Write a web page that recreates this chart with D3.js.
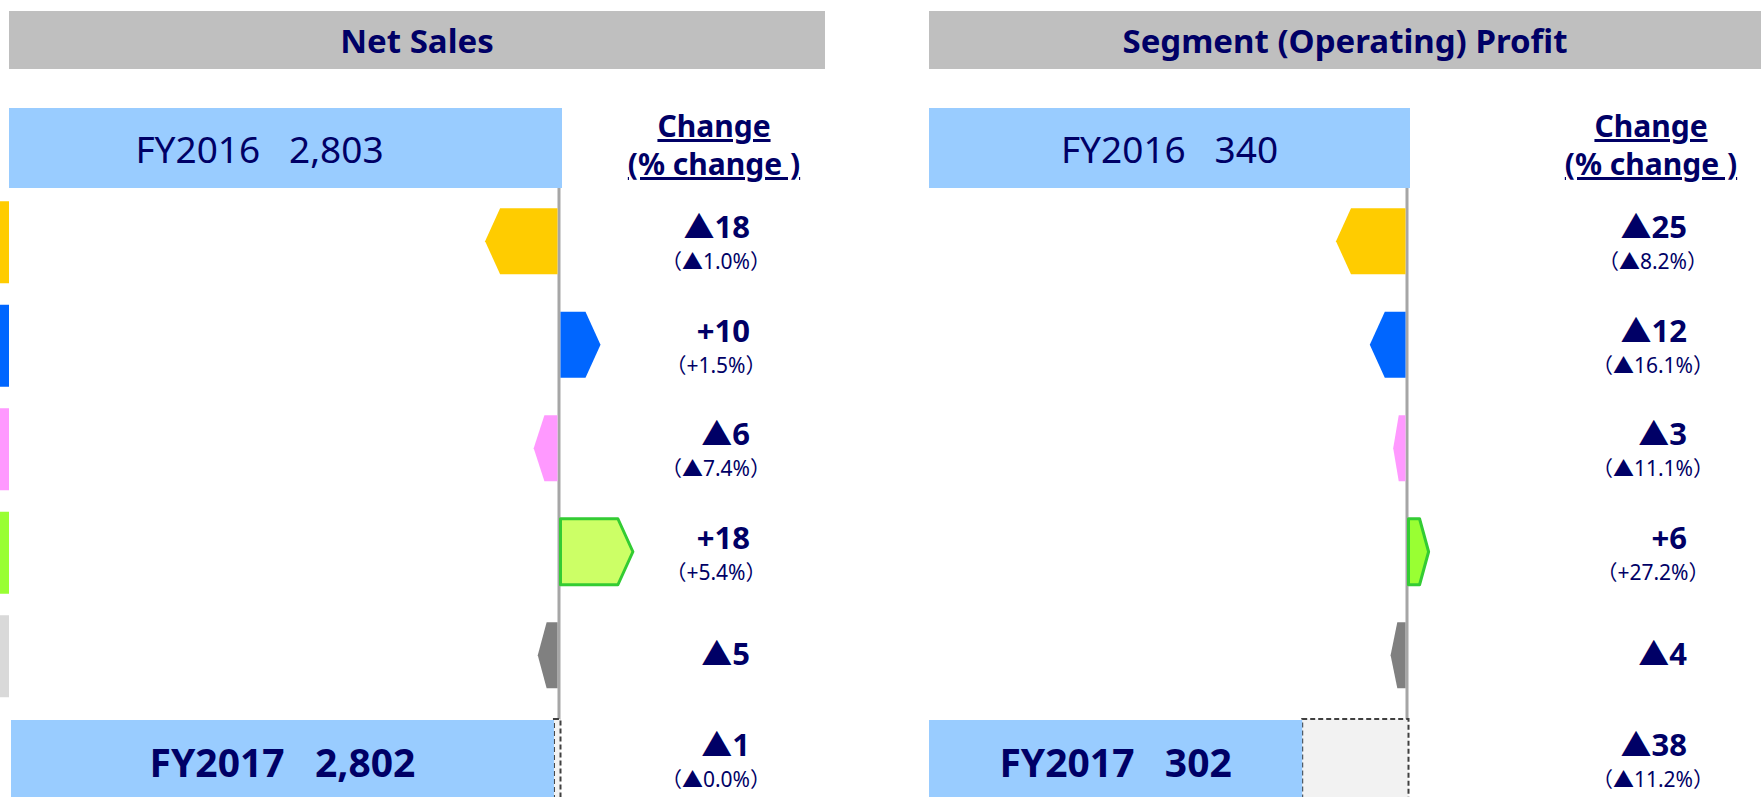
<!DOCTYPE html>
<html>
<head>
<meta charset="utf-8">
<script src="https://cdn.jsdelivr.net/npm/d3@7"></script>
<style>
  body { margin: 0; background: #fff; }
  text { font-family: 'Noto Sans', 'Noto Sans CJK JP', sans-serif; fill: #000066; white-space: pre; }
</style>
</head>
<body>
<svg id="chart"></svg>
<script>
// segment rows (names are cut off in the source picture)
const segments = ['Segment A', 'Segment B', 'Segment C', 'Segment D', 'Other'];
const years = ['FY2016', 'FY2017'];

const netChange = [-18, 10, -6, 18, -5];
const netPct = [-1.0, 1.5, -7.4, 5.4, null];
const netTotals = [2803, 2802];
const netTotalPct = 0.0;

const profitChange = [-25, -12, -3, 6, -4];
const profitPct = [-8.2, -16.1, -11.1, 27.2, null];
const profitTotals = [340, 302];
const profitTotalPct = 11.2;

const w = 1761;
const h = 797;
const arrowColors = ['#FFCC00', '#0066FF', '#FF99FF', 'green', '#808080'];
const stripColors = ['#FFCC00', '#0066FF', '#FF99FF', '#99FF33', '#D9D9D9'];

const panels = [
  { title: 'Net Sales', change: netChange, pct: netPct, totals: netTotals, totalPct: netTotalPct,
    left: 9, right: 825, base: 559, minLen: 1, perUnit: 4.05, col: 714, labelShift: -26, fy17Left: 11,
    green: '#CCFF66', strips: true },
  { title: 'Segment (Operating) Profit', change: profitChange, pct: profitPct, totals: profitTotals, totalPct: profitTotalPct,
    left: 929, right: 1761, base: 1407, minLen: 6, perUnit: 2.6, col: 1651, labelShift: 0, fy17Left: 929,
    green: '#99FF33', strips: false }
];

const rows = segments.concat(['total']);
const yScale = d3.scaleBand().domain(rows).range([189.5, 810.5]);
const rowMid = (r) => yScale(r) + yScale.bandwidth() / 2;

const fmtChange = (v) => (v < 0 ? '▲' : '+') + Math.abs(v);
const fmtPct = (v, sign) => '（' + (sign < 0 ? '▲' : '+') + Math.abs(v).toFixed(1) + '%）';

const svg = d3.select('#chart')
  .attr('width', w)
  .attr('height', h);

panels.forEach((p) => {
  const g = svg.append('g');
  const start = p.totals[0];
  // change magnitude -> bar length
  const lenScale = d3.scaleLinear()
    .domain([0, 100])
    .range([p.minLen, p.minLen + 100 * p.perUnit]);
  const xAt = (delta) => p.base + Math.sign(delta) * lenScale(Math.abs(delta));

  // header band
  g.append('rect')
    .attr('x', p.left).attr('y', 11)
    .attr('width', p.right - p.left).attr('height', 58)
    .attr('fill', '#BFBFBF');
  g.append('text')
    .attr('x', (p.left + p.right) / 2).attr('y', 53)
    .attr('text-anchor', 'middle')
    .style('font-size', '33px').style('font-weight', 'bold')
    .text(p.title);

  // left colour strips (rest of the table is cut off)
  if (p.strips) {
    g.selectAll('rect.strip')
      .data(segments)
      .enter()
      .append('rect')
      .attr('class', 'strip')
      .attr('x', 0)
      .attr('y', (d) => rowMid(d) - 40)
      .attr('width', 9)
      .attr('height', 82)
      .attr('fill', (d, i) => stripColors[i]);
  }

  // FY2016 box
  const boxRight = p.base + 3;
  g.append('rect')
    .attr('x', p.left).attr('y', 108)
    .attr('width', boxRight - p.left).attr('height', 80)
    .attr('fill', '#99CCFF');
  g.append('text')
    .attr('x', (p.left + boxRight) / 2 + p.labelShift).attr('y', 163)
    .attr('text-anchor', 'middle')
    .style('font-size', '37px')
    .text(years[0] + '   ' + d3.format(',')(start));

  // baseline
  g.append('line')
    .attr('x1', p.base).attr('x2', p.base)
    .attr('y1', 188).attr('y2', 720)
    .attr('stroke', '#A6A6A6').attr('stroke-width', 3);

  // arrows
  const arrowPath = (v, c) => {
    const s = v < 0 ? -1 : 1;
    const x0 = p.base + s * 1.5;
    const x1 = xAt(v);
    const depth = Math.min(15, Math.abs(x1 - x0) * 0.45);
    const hh = 33;
    return 'M' + x0 + ',' + (c - hh) +
      'L' + (x1 - s * depth) + ',' + (c - hh) +
      'L' + x1 + ',' + c +
      'L' + (x1 - s * depth) + ',' + (c + hh) +
      'L' + x0 + ',' + (c + hh) + 'Z';
  };
  g.selectAll('path.arrow')
    .data(p.change)
    .enter()
    .append('path')
    .attr('class', 'arrow')
    .attr('d', (d, i) => arrowPath(d, rowMid(segments[i])))
    .attr('fill', (d, i) => arrowColors[i] === 'green' ? p.green : arrowColors[i])
    .attr('stroke', (d, i) => arrowColors[i] === 'green' ? '#33CC33' : 'none')
    .attr('stroke-width', 3)
    .attr('stroke-linejoin', 'round');

  // FY2017 box with the gap shown dashed
  const end = p.totals[1];
  const endX = xAt(end - start);
  g.append('rect')
    .attr('x', endX).attr('y', 719)
    .attr('width', p.base + 1.5 - endX).attr('height', 90)
    .attr('fill', '#F2F2F2')
    .attr('stroke', '#404040').attr('stroke-width', 2)
    .attr('stroke-dasharray', '5,3');
  g.append('rect')
    .attr('x', p.fy17Left).attr('y', 720)
    .attr('width', endX - p.fy17Left).attr('height', 90)
    .attr('fill', '#99CCFF');
  g.append('text')
    .attr('x', (p.fy17Left + endX) / 2).attr('y', 777)
    .attr('text-anchor', 'middle')
    .style('font-size', '39px').style('font-weight', 'bold')
    .text(years[1] + '   ' + d3.format(',')(end));

  // change column
  ['Change', '(% change )'].forEach((t, i) => {
    g.append('text')
      .attr('x', p.col).attr('y', 137 + i * 38)
      .attr('text-anchor', 'middle')
      .style('font-size', '30px').style('font-weight', 'bold')
      .style('text-decoration', 'underline')
      .text(t);
  });

  const colData = p.change.map((v, i) => ({ row: segments[i], v: v, pct: p.pct[i] }))
    .concat([{ row: 'total', v: end - start, pct: p.totalPct }]);

  g.selectAll('text.value')
    .data(colData)
    .enter()
    .append('text')
    .attr('class', 'value')
    .attr('x', p.col + 36)
    .attr('y', (d) => rowMid(d.row) + (d.pct === null ? 10 : -3))
    .attr('text-anchor', 'end')
    .style('font-size', '31px').style('font-weight', 'bold')
    .text((d) => fmtChange(d.v));

  g.selectAll('text.pct')
    .data(colData.filter((d) => d.pct !== null))
    .enter()
    .append('text')
    .attr('class', 'pct')
    .attr('x', p.col + 2)
    .attr('y', (d) => rowMid(d.row) + 28)
    .attr('text-anchor', 'middle')
    .style('font-size', '21px')
    .text((d) => fmtPct(d.pct, d.v));
});
</script>
</body>
</html>
